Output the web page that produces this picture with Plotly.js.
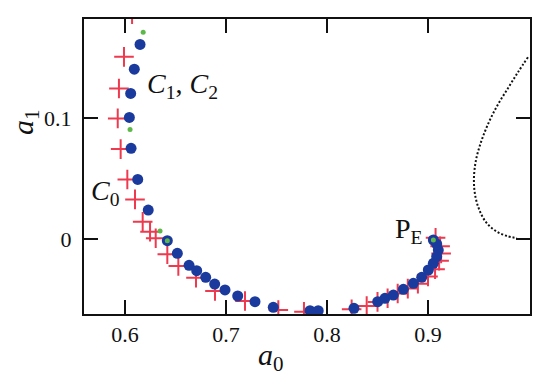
<!DOCTYPE html>
<html><head><meta charset="utf-8">
<script src="https://cdn.plot.ly/plotly-3.0.1.min.js"></script>
<style>html,body{margin:0;padding:0;background:#fff;}#chart{width:550px;height:376px;}</style>
</head><body><div id="chart"></div>
<script>
// Blue circles (a0, a1)
const blueA0 = [0.6149,0.6092,0.6056,0.6043,0.606,0.6126,0.623,0.6419,0.6518,0.6634,0.671,0.6799,0.6888,0.699,0.7116,0.7287,0.7468,0.7832,0.7913,0.8267,0.8502,0.8574,0.8657,0.8756,0.8855,0.8938,0.9003,0.9053,0.9086,0.9102,0.9086,0.9053];
const blueA1 = [0.161,0.1405,0.1204,0.1006,0.075,0.0493,0.024,-0.0014,-0.0118,-0.0217,-0.0262,-0.0317,-0.0372,-0.0421,-0.0471,-0.0518,-0.0565,-0.0593,-0.0593,-0.0573,-0.0518,-0.049,-0.0463,-0.0416,-0.0366,-0.0317,-0.0256,-0.0201,-0.0146,-0.0091,-0.0041,-0.0008];
// Red crosses
const redA0 = [0.607,0.599,0.594,0.5928,0.5957,0.6023,0.6099,0.6175,0.6248,0.6304,0.6419,0.6528,0.6703,0.6891,0.7188,0.7518,0.7772,0.8244,0.8393,0.85,0.86,0.87,0.88,0.89,0.9,0.907,0.911,0.913,0.912,0.9075];
const redA1 = [0.186,0.1507,0.1245,0.0998,0.0744,0.0493,0.0328,0.0143,0.006,0.0006,-0.0126,-0.0223,-0.032,-0.043,-0.0512,-0.0587,-0.0601,-0.0581,-0.0554,-0.052,-0.049,-0.045,-0.041,-0.037,-0.031,-0.025,-0.018,-0.012,-0.006,0.001];
// Green dots
const greenA0 = [0.618,0.605,0.6347,0.6419,0.9053];
const greenA1 = [0.171,0.0907,0.0066,-0.0014,-0.0008];
// Dotted curve
const dotA0 = [0.999,0.9891,0.9792,0.9683,0.9594,0.9525,0.9475,0.9455,0.9465,0.9505,0.9574,0.9673,0.9782,0.9881];
const dotA1 = [0.1504,0.138,0.1248,0.1099,0.095,0.0802,0.0653,0.0504,0.0372,0.0248,0.014,0.0066,0.0025,0.0008];
// Ticks
const xTicks = [0.6,0.7,0.8,0.9];
const xTickText = ['0.6','0.7','0.8','0.9'];
const yTicks = [0,0.1];
const yTickText = ['0','0.1'];

const serif = "'Liberation Serif', 'Times New Roman', Times, serif";
const traces = [
  {x: dotA0, y: dotA1, mode: 'lines', line: {color: '#111', width: 2, dash: '2px,2px', shape: 'spline'}, hoverinfo: 'none'},
  {x: redA0, y: redA1, mode: 'markers', marker: {symbol: 'cross-thin', size: 14, line: {color: '#ee3a4f', width: 2}}},
  {x: blueA0, y: blueA1, mode: 'markers', marker: {symbol: 'circle', size: 11, color: '#1a3a9e'}},
  {x: greenA0, y: greenA1, mode: 'markers', marker: {symbol: 'circle', size: 5, color: '#5db84a'}}
];
const axisCommon = {showgrid: false, zeroline: false, showline: true, mirror: 'ticks', linecolor: '#111', linewidth: 2,
  ticks: 'inside', ticklen: 14, tickwidth: 2, tickcolor: '#111', tickfont: {family: serif, size: 22, color: '#111'}};
const layout = {
  width: 550, height: 376, showlegend: false,
  margin: {l: 84, r: 20, t: 19, b: 62},
  paper_bgcolor: '#fff', plot_bgcolor: '#fff',
  xaxis: Object.assign({}, axisCommon, {range: [0.5594, 1.001], tickvals: xTicks, ticktext: xTickText, ticklabelstandoff: 0}),
  yaxis: Object.assign({}, axisCommon, {range: [-0.062, 0.182], tickvals: yTicks, ticktext: yTickText, ticklabelstandoff: 6}),
  annotations: [
    {xref: 'paper', yref: 'paper', x: (145-84)/446, y: (314-86)/295, xanchor: 'left', yanchor: 'middle', showarrow: false,
     text: '<i>C</i><sub>1</sub>, <i>C</i><sub>2</sub>', font: {family: serif, size: 28, color: '#111'}},
    {xref: 'paper', yref: 'paper', x: (89-84)/446, y: (314-192)/295, xanchor: 'left', yanchor: 'middle', showarrow: false,
     text: '<i>C</i><sub>0</sub>', font: {family: serif, size: 28, color: '#111'}},
    {xref: 'paper', yref: 'paper', x: (393-84)/446, y: (314-230)/295, xanchor: 'left', yanchor: 'middle', showarrow: false,
     text: 'P<sub>E</sub>', font: {family: serif, size: 28, color: '#111'}},
    {xref: 'paper', yref: 'paper', x: (271-84)/446, y: (314-357)/295, xanchor: 'center', yanchor: 'middle', showarrow: false,
     text: '<i>a</i><sub>0</sub>', font: {family: serif, size: 30, color: '#111'}},
    {xref: 'paper', yref: 'paper', x: (25-84)/446, y: (314-122)/295, xanchor: 'center', yanchor: 'middle', showarrow: false, textangle: -90,
     text: '<i>a</i><sub>1</sub>', font: {family: serif, size: 30, color: '#111'}}
  ]
};
Plotly.newPlot('chart', traces, layout, {displayModeBar: false, staticPlot: true});
</script></body></html>
